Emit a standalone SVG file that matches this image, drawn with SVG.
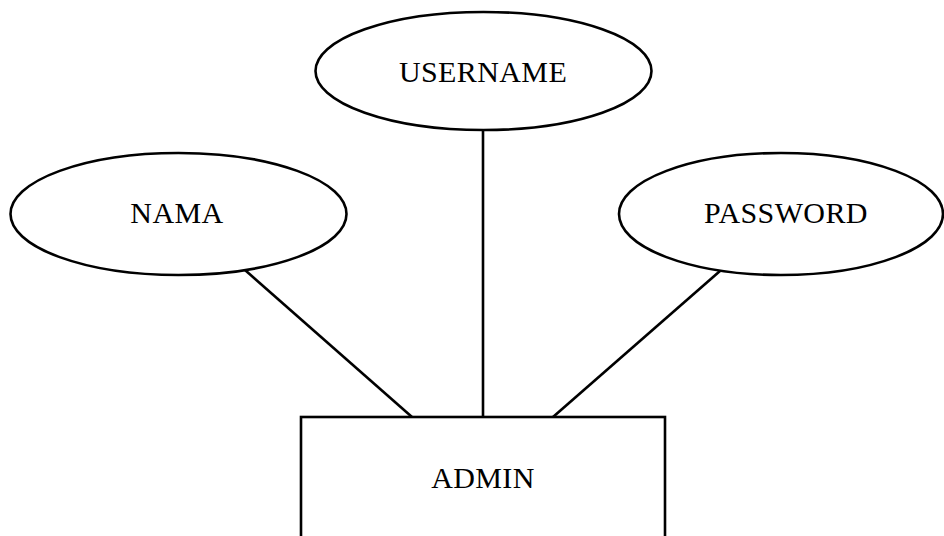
<svg xmlns="http://www.w3.org/2000/svg" width="944" height="536" viewBox="0 0 944 536">
<style>
.shape{fill:#fff;stroke:#000;stroke-width:2.6}
.conn line{stroke:#000;stroke-width:2.6}
text{font-family:"Liberation Serif","Times New Roman",serif;font-size:30px;letter-spacing:0.4px;fill:#000;text-anchor:middle}
</style>
<rect width="944" height="536" fill="#fff"/>
<g id="connectors" class="conn">
<line x1="245" y1="270" x2="412" y2="417"/>
<line x1="483" y1="130" x2="483" y2="417"/>
<line x1="720" y1="271" x2="553" y2="417"/>
</g>
<g id="username">
<ellipse class="shape" cx="483.5" cy="71" rx="168" ry="59"/>
<text x="483" y="82">USERNAME</text>
</g>
<g id="nama">
<ellipse class="shape" cx="178.5" cy="214" rx="168" ry="61"/>
<text x="177" y="223">NAMA</text>
</g>
<g id="password">
<ellipse class="shape" cx="781" cy="214" rx="162" ry="61"/>
<text x="786" y="223">PASSWORD</text>
</g>
<g id="admin">
<rect class="shape" x="301" y="417" width="364" height="140"/>
<text x="483" y="488">ADMIN</text>
</g>
</svg>
